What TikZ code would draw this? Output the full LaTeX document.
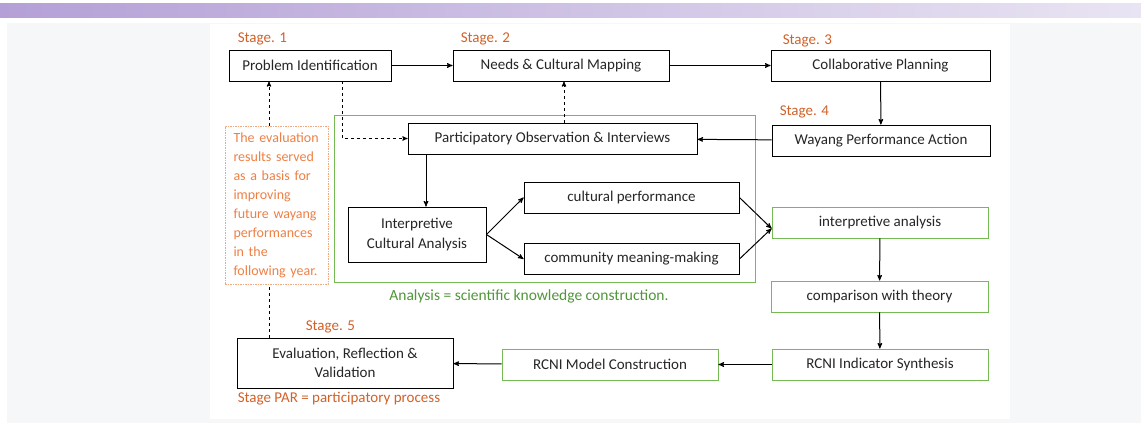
\documentclass[tikz,border=0pt]{standalone}
\usepackage{fontspec}
\setmainfont{Carlito}
\usetikzlibrary{arrows,shapes,positioning,shadows}
\definecolor{stageorange}{RGB}{208,98,42}
\definecolor{noteorange}{RGB}{238,128,70}
\definecolor{noteborder}{RGB}{244,168,128}
\definecolor{boxgreen}{RGB}{117,186,84}
\definecolor{textgreen}{RGB}{80,150,58}
\definecolor{panelgray}{RGB}{246,247,249}
\definecolor{barleft}{RGB}{180,160,214}
\definecolor{barright}{RGB}{233,228,243}
\tikzset{style={>=stealth'}}
\tikzset{stepbox/.style={rectangle, fill=white,draw=black,text=black!85,line width=0.9pt,minimum height=31pt,inner sep=0pt,align=center,font=\fontsize{15}{19.5}\selectfont,drop shadow={shadow xshift=0.4pt,shadow yshift=-0.9pt,opacity=0.55,fill=black}}}
\tikzset{greenbox/.style={rectangle,fill=white,draw=boxgreen,text=black!85,line width=0.9pt,minimum height=31pt,inner sep=0pt,align=center,font=\fontsize{15}{19.5}\selectfont}}
\tikzset{stagelabel/.style={text=stageorange,inner sep=0pt,font=\fontsize{15}{18}\selectfont}}
\tikzset{notebox/.style={rectangle,draw=noteborder,dash pattern=on 1.5pt off 1pt,line width=0.7pt,text=noteorange,align=left,inner xsep=8.5pt,inner ysep=0pt,minimum height=158pt,text width=86pt,font=\fontsize{14}{19}\selectfont}}
\tikzset{caption/.style={inner sep=0pt,font=\fontsize{15.5}{18}\selectfont}}
\tikzset{arr/.style={->,line width=1pt}}
\tikzset{darr/.style={->,line width=0.9pt,dashed}}

\begin{document}
\begin{tikzpicture}[x=1pt,y=-1pt]
    \useasboundingbox (0,0) rectangle (1141,423);
    % page background
    \shade[left color=barleft,right color=barright] (0,3) rectangle (1141,17);
    \fill[panelgray] (7,23) rectangle (1141,423);
    \fill[white] (210,24) rectangle (1010,419);

    % analysis frame
    \node[draw=boxgreen,line width=0.8pt,minimum width=421pt,minimum height=167pt,inner sep=0pt] (frame) at (544.5,198.5) {};

    % PAR stages
    \node[stepbox,minimum width=162pt] (pi)  at (310, 65.5)  {Problem Identification};
    \node[stepbox,minimum width=216pt] (ncm) at (561, 65.5)  {Needs \& Cultural Mapping};
    \node[stepbox,minimum width=219pt] (cp)  at (880.5, 65.5) {Collaborative Planning};
    \node[stepbox,minimum width=218pt] (wpa) at (881, 140.5) {Wayang Performance Action};
    \node[stepbox,minimum width=216pt,minimum height=50pt] (erv) at (345, 363) {Evaluation, Reflection \&\\Validation};

    % analysis steps
    \node[stepbox,minimum width=289pt] (po)    at (552.5, 138.5) {Participatory Observation \& Interviews};
    \node[stepbox,minimum width=138pt,minimum height=55pt] (ica) at (417, 234.5) {Interpretive\\Cultural Analysis};
    \node[stepbox,minimum width=215pt] (cperf) at (631.5, 197.5) {cultural performance};
    \node[stepbox,minimum width=215pt] (cmm)   at (631.5, 259)   {community meaning-making};

    \node[greenbox,minimum width=216pt] (ia)  at (880, 222.5)   {interpretive analysis};
    \node[greenbox,minimum width=217pt] (cwt) at (879.5, 296.5) {comparison with theory};
    \node[greenbox,minimum width=216pt] (ris) at (880, 364.5)   {RCNI Indicator Synthesis};
    \node[greenbox,minimum width=216pt] (rmc) at (610, 364.5)   {RCNI Model Construction};

    \node[notebox] (note) at (276.5, 205) {The evaluation\\results served\\as a basis for\\improving\\future wayang\\performances\\in the\\following year.};

    % labels
    \node[stagelabel,above right = 4pt and 9pt of pi.north west]  {Stage. 1};
    \node[stagelabel,above right = 4pt and 8pt of ncm.north west] {Stage. 2};
    \node[stagelabel,above right = 2pt and 12pt of cp.north west] {Stage. 3};
    \node[stagelabel,above right = 6pt and 8pt of wpa.north west] {Stage. 4};
    \node[stagelabel,above right = 4pt and 69pt of erv.north west] {Stage. 5};
    \node[stagelabel,below right = 3pt and 1pt of erv.south west] {Stage PAR = participatory process};
    \node[caption,text=textgreen] (cap) at (529, 296) {Analysis = scientific knowledge construction.};

    % connectors
    \draw[arr] (pi) -- (ncm);
    \draw[arr] (ncm) -- (cp);
    \draw[arr] (cp) -- (wpa);
    \draw[arr] (wpa) -- (po);
    \draw[darr] (po.north -| 564,0) -- (ncm.south -| 564,0);
    \draw[darr] (pi.south -| 342,0) |- (po.west);
    \draw[darr] (note.north -| 269,0) -- (pi.south -| 269,0);
    \draw[line width=0.9pt,dashed] (erv.north -| 269,0) -- (note.south -| 269,0);
    \draw[arr] ([xshift=9pt]ica.north |- po.south) -- ([xshift=9pt]ica.north);
    \draw[arr] (ica.east) -- (cperf.west);
    \draw[arr] (ica.east) -- (cmm.west);
    \draw[arr] (cperf.east) -- ([yshift=-6pt]ia.west);
    \draw[arr] (cmm.east) -- ([yshift=-6pt]ia.west);
    \draw[arr] (ia) -- (cwt);
    \draw[arr] (cwt) -- (ris);
    \draw[arr] (ris) -- (rmc);
    \draw[arr] (rmc) -- (erv);
\end{tikzpicture}
\end{document}
